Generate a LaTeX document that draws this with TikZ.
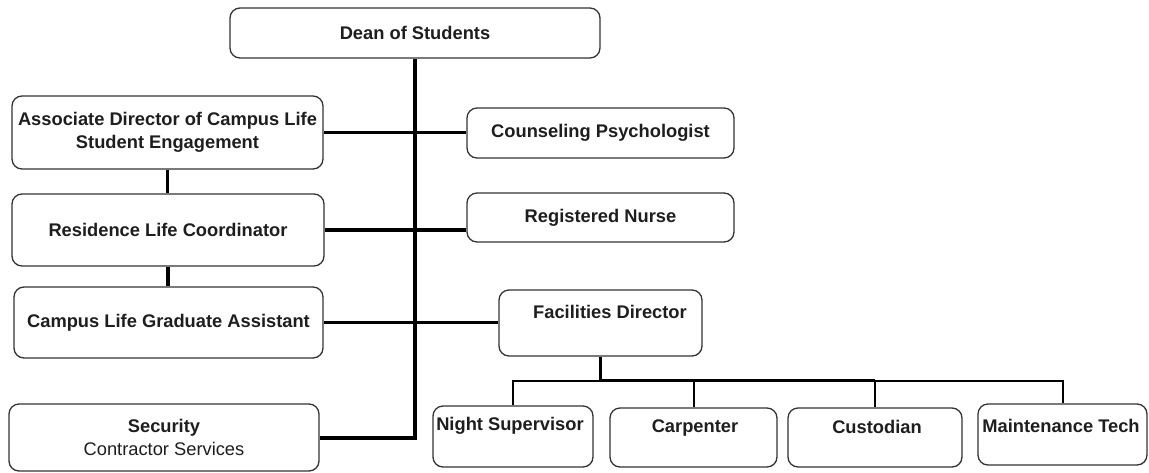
\documentclass[tikz,border=0pt]{standalone}
\usepackage{fontspec}
\setmainfont{Liberation Sans}
\usetikzlibrary{calc}
\definecolor{boxline}{HTML}{333333}
\definecolor{ink}{HTML}{1E1E1E}
\begin{document}
\begin{tikzpicture}[x=1pt,y=-1pt,
  every node/.style={font=\fontsize{18.3}{22.5}\selectfont\bfseries, text=ink},
  box/.style={draw=boxline, line width=1.3pt, rounded corners=10pt, fill=white,
    inner sep=0pt, align=center},
  trunk/.style={line width=4pt, black},
  branch/.style={line width=3.5pt, black},
  feed/.style={line width=3pt, black},
  leaf/.style={line width=2pt, black}
]
\useasboundingbox (0,0) rectangle (1149,472);

% first level
\node[box, minimum width=370pt, minimum height=50pt] (dean) at (415,33) {Dean of Students};

% left column
\node[box, minimum width=311pt, minimum height=73pt] (assoc) at (167.5,132.5)
  {Associate Director of Campus Life\\Student Engagement};
\node[box, minimum width=312pt, minimum height=72pt] (resid) at (168,230)
  {Residence Life Coordinator};
\node[box, minimum width=309pt, minimum height=71pt] (campus) at (168.5,322.5)
  {Campus Life Graduate Assistant};
\node[box, minimum width=310pt, minimum height=67pt] (secur) at (164,437.5)
  {Security\\\mdseries Contractor Services};

% right column
\node[box, minimum width=267pt, minimum height=50pt] (couns) at (600.5,133)
  {Counseling Psychologist};
\node[box, minimum width=267pt, minimum height=49pt] (nurse) at (600.5,217.5)
  {Registered Nurse};
\node[box, minimum width=203pt, minimum height=66pt,
  label={[xshift=9.5pt, yshift=11pt]center:Facilities Director}] (fac) at (600.5,323) {};

% facilities staff
\node[box, minimum width=160pt, minimum height=61pt,
  label={[xshift=-3pt, yshift=10.5pt]center:Night Supervisor}] (night) at (513,436.5) {};
\node[box, minimum width=167pt, minimum height=59pt,
  label={[xshift=1.5pt, yshift=9.5pt]center:Carpenter}] (carp) at (693.5,437.5) {};
\node[box, minimum width=174pt, minimum height=59pt,
  label={[xshift=2pt, yshift=10.5pt]center:Custodian}] (cust) at (875,437.5) {};
\node[box, minimum width=169pt, minimum height=61pt,
  label={[xshift=-1.5pt, yshift=8.5pt]center:Maintenance Tech}] (maint) at (1062.5,434.5) {};

% reporting lines
\draw[trunk] (dean.south) -- (dean.south |- secur.east) -- (secur.east);
\draw[branch] (assoc.east) -- (assoc.east -| couns.west);
\draw[branch] (resid.east) -- (resid.east -| nurse.west);
\draw[branch] (campus.east) -- (dean.south |- campus.east);
\draw[feed] (dean.south |- campus.east) -- (campus.east -| fac.west);
\draw[branch] (assoc.south) -- (assoc.south |- resid.north);
\draw[branch] (resid.south) -- (resid.south |- campus.north);

% facilities bus
\coordinate (busY) at ($(fac.south)+(0,24)$);
\draw[leaf] (night.north) -- (night.north |- busY) -- (maint.north |- busY) -- (maint.north);
\draw[leaf] (carp.north) -- (carp.north |- busY);
\draw[leaf] (cust.north) -- (cust.north |- busY);
\draw[feed] (fac.south) -- (fac.south |- busY) -- (cust.north |- busY);
\end{tikzpicture}
\end{document}
